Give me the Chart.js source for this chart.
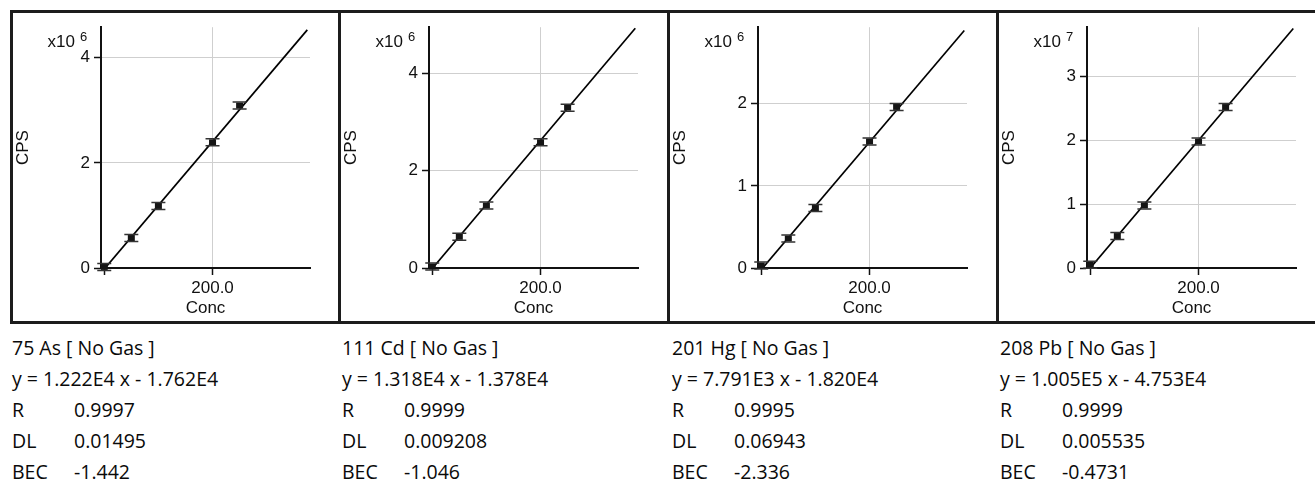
<!DOCTYPE html>
<html>
<head>
<meta charset="utf-8">
<script src="https://cdn.jsdelivr.net/npm/chart.js@4.4.1/dist/chart.umd.min.js"></script>
<style>
  html, body { margin: 0; padding: 0; background: #fff; overflow: hidden; }
  body { width: 1315px; height: 485px; position: relative; }
  .frame { position: absolute; left: 10px; top: 10px; width: 1340px; height: 314px; border: 3px solid #1c1c1c; box-sizing: border-box; }
  .sep { position: absolute; top: 10px; width: 3px; height: 314px; background: #1c1c1c; }
  canvas.panel { position: absolute; top: 13px; }
  .stats { position: absolute; top: 332px; font-family: 'Open Sans', 'Noto Sans', sans-serif; font-size: 19.5px; line-height: 31px; color: #0a0a0a; white-space: nowrap; }
  .stats .row { position: relative; height: 31px; }
  .stats .val { position: absolute; left: 62px; top: 0; }
</style>
</head>
<body>
<div class="frame"></div>
<div class="sep" style="left:337.5px"></div>
<div class="sep" style="left:666.5px"></div>
<div class="sep" style="left:995.5px"></div>

<canvas class="panel" id="c0" width="324" height="308" style="left:13px"></canvas>
<canvas class="panel" id="c1" width="324" height="308" style="left:341px"></canvas>
<canvas class="panel" id="c2" width="324" height="308" style="left:670px"></canvas>
<canvas class="panel" id="c3" width="324" height="308" style="left:999px"></canvas>

<div id="stats"></div>

<script>
// ---- data ----
const elements = ['75 As [ No Gas ]', '111 Cd [ No Gas ]', '201 Hg [ No Gas ]', '208 Pb [ No Gas ]'];
const concLevels = [0, 50, 100, 200, 250];
// CPS values in units of 10^exponent
const asCps = [0.02, 0.57, 1.18, 2.39, 3.09];
const cdCps = [0.03, 0.64, 1.28, 2.58, 3.29];
const hgCps = [0.03, 0.36, 0.73, 1.54, 1.96];
const pbCps = [0.05, 0.50, 0.98, 1.98, 2.52];
// fitted calibration line end points
const fitConc = [0, 375];
const asFit = [-0.02, 4.53];
const cdFit = [-0.01, 4.92];
const hgFit = [-0.02, 2.89];
const pbFit = [0.00, 3.75];
// axes
const exponents = [6, 6, 6, 7];
const yAxisMax = [4.58, 4.94, 2.93, 3.77];
const yTickValues = [[0, 2, 4], [0, 2, 4], [0, 1, 2], [0, 1, 2, 3]];
const xTickValues = [0, 200];
const xTickLabels = ['', '200.0'];
// statistics
const equations = ['y = 1.222E4 x - 1.762E4', 'y = 1.318E4 x - 1.378E4', 'y = 7.791E3 x - 1.820E4', 'y = 1.005E5 x - 4.753E4'];
const rValues = ['0.9997', '0.9999', '0.9995', '0.9999'];
const dlValues = ['0.01495', '0.009208', '0.06943', '0.005535'];
const becValues = ['-1.442', '-1.046', '-2.336', '-0.4731'];

const cpsSeries = [asCps, cdCps, hgCps, pbCps];
const fitSeries = [asFit, cdFit, hgFit, pbFit];

const axisFont = { family: "'Liberation Sans', Arial, sans-serif", size: 17 };

const markerPlugin = {
  id: 'markers',
  afterDatasetsDraw(chart) {
    const ctx = chart.ctx;
    const meta = chart.getDatasetMeta(0);
    ctx.save();
    meta.data.forEach(el => {
      const x = el.x, y = el.y;
      ctx.fillStyle = '#151515';
      ctx.fillRect(x - 3.5, y - 3, 7, 6);
      ctx.strokeStyle = '#333';
      ctx.lineWidth = 1.5;
      ctx.beginPath();
      ctx.moveTo(x - 7, y - 3.5); ctx.lineTo(x + 7, y - 3.5);
      ctx.moveTo(x - 7, y + 3.5); ctx.lineTo(x + 7, y + 3.5);
      ctx.stroke();
    });
    ctx.restore();
  }
};

const exponentPlugin = {
  id: 'exponent',
  afterDraw(chart, args, opts) {
    const ctx = chart.ctx;
    const a = chart.chartArea;
    ctx.save();
    ctx.fillStyle = '#111';
    ctx.textBaseline = 'alphabetic';
    ctx.font = "17px 'Liberation Sans', Arial, sans-serif";
    ctx.textAlign = 'right';
    ctx.fillText('x10', a.left - 26, a.top + 20);
    ctx.font = "13px 'Liberation Sans', Arial, sans-serif";
    ctx.textAlign = 'left';
    ctx.fillText(String(opts.exp), a.left - 21, a.top + 14);
    ctx.restore();
  }
};

for (let i = 0; i < 4; i++) {
  const points = concLevels.map((c, k) => ({ x: c, y: cpsSeries[i][k] }));
  const line = fitConc.map((c, k) => ({ x: c, y: fitSeries[i][k] }));
  const yTicks = yTickValues[i];
  new Chart(document.getElementById('c' + i), {
    type: 'scatter',
    data: {
      datasets: [
        { data: points, pointRadius: 0, showLine: false },
        { data: line, showLine: true, borderColor: '#000', borderWidth: 1.7, pointRadius: 0, fill: false }
      ]
    },
    options: {
      responsive: false,
      animation: false,
      devicePixelRatio: 1,
      layout: { padding: { top: 10, right: 27, left: 0, bottom: 0 } },
      plugins: {
        legend: { display: false },
        tooltip: { enabled: false },
        exponent: { exp: exponents[i] }
      },
      scales: {
        x: {
          type: 'linear',
          min: -6,
          max: 380,
          afterBuildTicks: s => { s.ticks = xTickValues.map(v => ({ value: v })); },
          afterFit: s => { s.height = 53; },
          ticks: {
            autoSkip: false, maxRotation: 0, color: '#111', font: axisFont, padding: 3,
            callback: (v) => { const j = xTickValues.indexOf(v); return j >= 0 ? xTickLabels[j] : ''; }
          },
          grid: {
            color: c => (c.tick && c.tick.value === 200) ? '#cfcfcf' : 'rgba(0,0,0,0)',
            lineWidth: 1, tickLength: 7, tickColor: '#111', tickWidth: 1.5
          },
          border: { color: '#111', width: 2 },
          title: { display: true, text: 'Conc', color: '#111', font: axisFont, padding: { top: 0, bottom: 2 } }
        },
        y: {
          type: 'linear',
          min: 0,
          max: yAxisMax[i],
          afterBuildTicks: s => { s.ticks = yTicks.map(v => ({ value: v })); },
          afterFit: s => { s.width = 88; },
          ticks: { color: '#111', font: axisFont, padding: 4, callback: v => String(v) },
          grid: {
            color: c => (c.tick && c.tick.value === 0) ? 'rgba(0,0,0,0)' : '#cfcfcf',
            lineWidth: 1, tickLength: 7, tickColor: '#111', tickWidth: 1.5
          },
          border: { color: '#111', width: 2 },
          title: { display: true, text: 'CPS', color: '#111', font: axisFont, padding: { top: 0, bottom: 0 } }
        }
      }
    },
    plugins: [markerPlugin, exponentPlugin]
  });
}

// statistics text blocks
const statLefts = [12, 342, 672, 1000];
const statsHost = document.getElementById('stats');
for (let i = 0; i < 4; i++) {
  const block = document.createElement('div');
  block.className = 'stats';
  block.style.left = statLefts[i] + 'px';
  const rows = [
    [elements[i], ''],
    [equations[i], ''],
    ['R', rValues[i]],
    ['DL', dlValues[i]],
    ['BEC', becValues[i]]
  ];
  rows.forEach(r => {
    const row = document.createElement('div');
    row.className = 'row';
    const lab = document.createElement('span');
    lab.textContent = r[0];
    row.appendChild(lab);
    if (r[1]) {
      const v = document.createElement('span');
      v.className = 'val';
      v.textContent = r[1];
      row.appendChild(v);
    }
    block.appendChild(row);
  });
  statsHost.appendChild(block);
}
</script>
</body>
</html>
